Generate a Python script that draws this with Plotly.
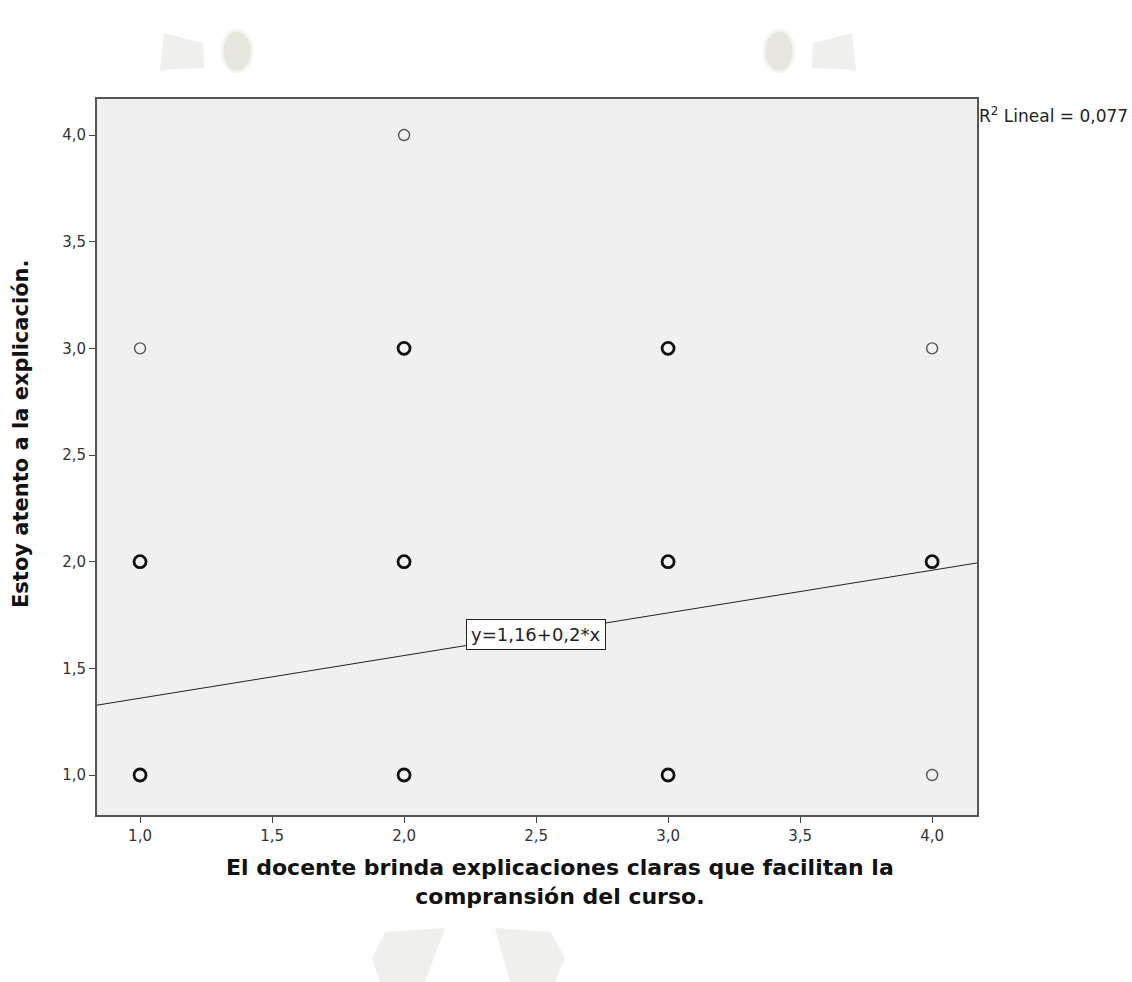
import plotly.graph_objects as go

# Observed response pairs and how many cases share each pair
docente = [1, 1, 1, 2, 2, 2, 2, 3, 3, 3, 4, 4, 4]
atento = [3, 2, 1, 4, 3, 2, 1, 3, 2, 1, 3, 2, 1]
casos = [1, 4, 5, 1, 3, 4, 6, 2, 3, 3, 1, 2, 1]

# Linear fit reported by the analysis
intercepto = 1.16
pendiente = 0.2
r2 = 0.077

tick_vals = [1, 1.5, 2, 2.5, 3, 3.5, 4]
x_range = [0.837, 4.17]
y_range = [0.8125, 4.169]

titulo_x = ["El docente brinda explicaciones claras que facilitan la",
            "compransión del curso."]
titulo_y = "Estoy atento a la explicación."

FONT = "DejaVu Sans, Verdana, sans-serif"

fig = go.Figure()

# regression line across the full x range
fig.add_trace(go.Scatter(
    x=x_range,
    y=[intercepto + pendiente * v for v in x_range],
    mode="lines",
    line=dict(color="#222222", width=1),
    hoverinfo="skip",
    showlegend=False,
))

# single cases drawn thinner, stacked cases bolder
single = [i for i, c in enumerate(casos) if c == 1]
multi = [i for i, c in enumerate(casos) if c > 1]
for idx, size, width, color in [(single, 11, 1.4, "#555555"),
                                (multi, 12, 2.8, "#111111")]:
    fig.add_trace(go.Scatter(
        x=[docente[i] for i in idx],
        y=[atento[i] for i in idx],
        mode="markers",
        marker=dict(symbol="circle-open", size=size,
                    line=dict(width=width, color=color), color=color),
        showlegend=False,
    ))

# pixel -> paper helpers for the plot area
W, H, L, B = 880, 716, 97, 815


def px(xp):
    return (xp - L) / W


def py(yp):
    return (B - yp) / H


def poly(points):
    return "M " + " L ".join(f"{px(a):.4f},{py(b):.4f}" for a, b in points) + " Z"


# faint decorative emblems around the chart
emblem = "#efefeb"
emblem_dark = "#e6e6df"
shapes = [
    dict(type="path", xref="paper", yref="paper",
         path=poly([(164, 33), (203, 43), (204, 68), (160, 70)]),
         fillcolor=emblem, line=dict(width=0), layer="below"),
    dict(type="circle", xref="paper", yref="paper",
         x0=px(222), x1=px(252), y0=py(30), y1=py(72),
         fillcolor=emblem_dark, line=dict(color="#f4f4f1", width=3), layer="below"),
    dict(type="path", xref="paper", yref="paper",
         path=poly([(852, 33), (813, 43), (812, 68), (856, 70)]),
         fillcolor=emblem, line=dict(width=0), layer="below"),
    dict(type="circle", xref="paper", yref="paper",
         x0=px(764), x1=px(794), y0=py(30), y1=py(72),
         fillcolor=emblem_dark, line=dict(color="#f4f4f1", width=3), layer="below"),
    dict(type="path", xref="paper", yref="paper",
         path=poly([(385, 932), (445, 928), (425, 982), (380, 982), (372, 958)]),
         fillcolor=emblem, line=dict(width=0), layer="below"),
    dict(type="path", xref="paper", yref="paper",
         path=poly([(495, 928), (550, 932), (565, 958), (555, 982), (510, 982)]),
         fillcolor=emblem, line=dict(width=0), layer="below"),
]

axis_common = dict(
    tickvals=tick_vals, tickformat=".1f",
    showgrid=False, zeroline=False, showline=True, mirror=True,
    linecolor="#555555", linewidth=2, ticks="outside", ticklen=6,
    tickcolor="#444444", tickwidth=1,
    tickfont=dict(family=FONT, size=15, color="#333333"),
)

fig.update_layout(
    width=1132, height=982,
    margin=dict(l=97, r=155, t=99, b=167),
    paper_bgcolor="white",
    plot_bgcolor="#f0f0f0",
    separators=",.",
    font=dict(family=FONT, color="#333333", size=15),
    shapes=shapes,
    xaxis=dict(range=x_range, **axis_common),
    yaxis=dict(range=y_range, **axis_common),
    annotations=[
        # axis titles
        dict(x=px(560), y=py(882), xref="paper", yref="paper",
             xanchor="center", yanchor="middle", showarrow=False,
             text="<b>" + "<br>".join(titulo_x) + "</b>",
             font=dict(family=FONT, size=22, color="#111111")),
        dict(x=px(21), y=py(434), xref="paper", yref="paper",
             xanchor="center", yanchor="middle", showarrow=False,
             textangle=-90, text=f"<b>{titulo_y}</b>",
             font=dict(family=FONT, size=21, color="#111111")),
        # fit equation label sitting on the line
        dict(x=2.5, y=intercepto + pendiente * 2.5, xref="x", yref="y",
             text=f"y={intercepto:.2f}+{pendiente:.1f}*x".replace(".", ","),
             showarrow=False, bgcolor="white", bordercolor="#222222",
             borderwidth=1, borderpad=4,
             font=dict(family=FONT, size=18, color="#222222")),
        dict(x=1, y=1, xref="paper", yref="paper", xanchor="left", yanchor="top",
             xshift=0, yshift=-3,
             text=f"R<sup>2</sup> Lineal = {r2:.3f}".replace(".", ","),
             showarrow=False, font=dict(family=FONT, size=17, color="#222222")),
    ],
)

fig.write_html("out.html")
